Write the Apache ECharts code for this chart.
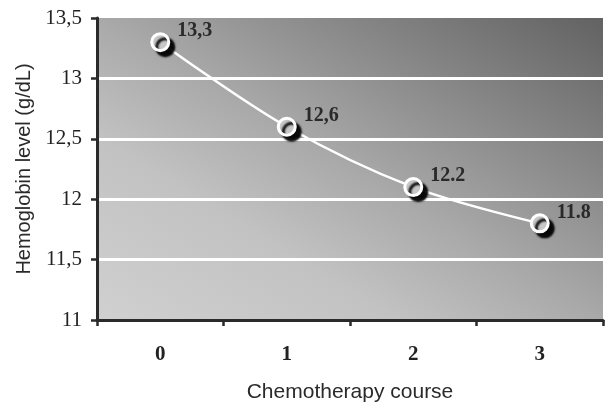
<!DOCTYPE html>
<html>
<head>
<meta charset="utf-8">
<script src="https://cdn.jsdelivr.net/npm/echarts@6/dist/echarts.min.js"></script>
<style>
html,body{margin:0;padding:0;background:#fff;}
#chart{width:605px;height:408px;}
</style>
</head>
<body>
<div id="chart"></div>
<script>
const categories = ['0', '1', '2', '3'];
const hemoglobin = [13.3, 12.6, 12.1, 11.8];
const pointLabels = ['13,3', '12,6', '12.2', '11.8'];
const yMin = 11, yMax = 13.5, yStep = 0.5;

const chart = echarts.init(document.getElementById('chart'), null, {renderer: 'canvas'});
const serif = '"Liberation Serif", "Times New Roman", serif';
const sans = '"Liberation Sans", Arial, sans-serif';

chart.setOption({
  animation: false,
  grid: {
    left: 97, right: 2, top: 18, bottom: 87,
    show: true, borderWidth: 0,
    backgroundColor: new echarts.graphic.LinearGradient(0.236, 1.236, 0.764, -0.236, [
      {offset: 0, color: '#d0d0d0'},
      {offset: 0.3, color: '#c2c2c2'},
      {offset: 0.5, color: '#a9a9a9'},
      {offset: 1, color: '#626262'}
    ])
  },
  xAxis: {
    type: 'category',
    data: categories,
    boundaryGap: true,
    name: 'Chemotherapy course',
    nameLocation: 'middle',
    nameGap: 62,
    nameTextStyle: {fontFamily: sans, fontSize: 21, color: '#2a2a2a'},
    axisLine: {show: true, lineStyle: {color: '#2a2a2a', width: 3}},
    axisTick: {show: true, alignWithLabel: false, length: 6, lineStyle: {color: '#2a2a2a', width: 2.5}},
    axisLabel: {margin: 24, fontFamily: serif, fontWeight: 'bold', fontSize: 21, color: '#222'},
    splitLine: {show: false}
  },
  yAxis: {
    type: 'value',
    min: yMin, max: yMax, interval: yStep,
    name: 'Hemoglobin level (g/dL)',
    nameLocation: 'middle',
    nameGap: 61,
    nameTextStyle: {fontFamily: sans, fontSize: 20, color: '#2a2a2a'},
    axisLine: {show: true, lineStyle: {color: '#2a2a2a', width: 3}},
    axisTick: {show: true, length: 6, lineStyle: {color: '#2a2a2a', width: 2.5}},
    axisLabel: {
      margin: 15, fontFamily: serif, fontSize: 21, color: '#222',
      formatter: v => String(v).replace('.', ',')
    },
    splitLine: {show: true, lineStyle: {color: ['rgba(0,0,0,0)', '#ffffff', '#ffffff', '#ffffff', '#ffffff', 'rgba(0,0,0,0)'], width: 3}}
  },
  series: [{
    type: 'line',
    data: hemoglobin,
    smooth: 0.35,
    symbol: 'circle',
    symbolSize: 17,
    lineStyle: {color: '#ffffff', width: 2.5},
    itemStyle: {
      color: '#c8c8c8', borderColor: '#ffffff', borderWidth: 3,
      shadowColor: 'rgba(0,0,0,0.95)', shadowBlur: 2, shadowOffsetX: 5, shadowOffsetY: 5
    },
    label: {
      show: true,
      position: 'right',
      distance: 7,
      offset: [0, -11],
      formatter: p => pointLabels[p.dataIndex],
      fontFamily: serif, fontWeight: 'bold', fontSize: 20, color: '#2a2a2a'
    },
    z: 5
  }]
});
</script>
</body>
</html>
